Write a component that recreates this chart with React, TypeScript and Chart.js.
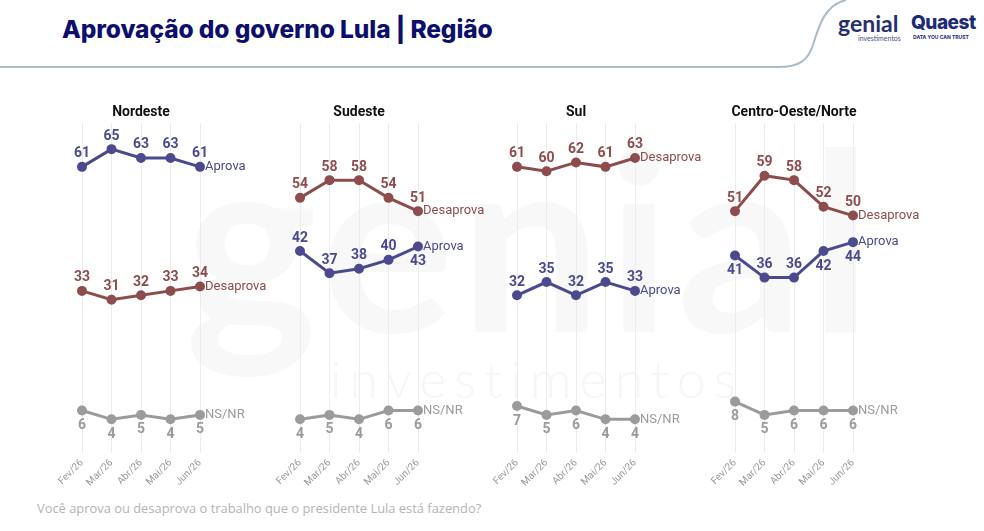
import React, { useEffect, useRef } from "react";
import { Chart, registerables } from "chart.js";

Chart.register(...registerables);

// ---- data ----
const months = ["Fev/26", "Mar/26", "Abr/26", "Mai/26", "Jun/26"];
const regions = ["Nordeste", "Sudeste", "Sul", "Centro-Oeste/Norte"];
const seriesNames = ["Aprova", "Desaprova", "NS/NR"];

const nordesteAprova = [61, 65, 63, 63, 61];
const nordesteDesaprova = [33, 31, 32, 33, 34];
const nordesteNsnr = [6, 4, 5, 4, 5];

const sudesteAprova = [42, 37, 38, 40, 43];
const sudesteDesaprova = [54, 58, 58, 54, 51];
const sudesteNsnr = [4, 5, 4, 6, 6];

const sulAprova = [32, 35, 32, 35, 33];
const sulDesaprova = [61, 60, 62, 61, 63];
const sulNsnr = [7, 5, 6, 4, 4];

const coAprova = [41, 36, 36, 42, 44];
const coDesaprova = [51, 59, 58, 52, 50];
const coNsnr = [8, 5, 6, 6, 6];

// label placement (u = above, d = below)
const U = "u";
const D = "d";
const labelPlacement: Record<string, string[][]> = {
  Nordeste: [[U, U, U, U, U], [U, U, U, U, U], [D, D, D, D, D]],
  Sudeste: [[U, U, U, U, D], [U, U, U, U, U], [D, D, D, D, D]],
  Sul: [[U, U, U, U, U], [U, U, U, U, U], [D, D, D, D, D]],
  "Centro-Oeste/Norte": [[D, U, U, D, D], [U, U, U, U, U], [D, D, D, D, D]],
};

const panelData: number[][][] = [
  [nordesteAprova, nordesteDesaprova, nordesteNsnr],
  [sudesteAprova, sudesteDesaprova, sudesteNsnr],
  [sulAprova, sulDesaprova, sulNsnr],
  [coAprova, coDesaprova, coNsnr],
];

// ---- style ----
const COLORS = ["#4b4a8f", "#8e4d4d", "#9b9b9b"];
const PANEL_FIRST_X = [82, 300, 517, 735];
const CANVAS_TOP = 88;
const PAD_LEFT = 40;
const PAD_RIGHT = 80;
const PLOT_W = 118;
const PAD_TOP = 35;
const PLOT_H = 330;
const XAXIS_H = 42;
const LABEL_FONT = "Roboto, 'Noto Sans', sans-serif";

const labelPlugin = {
  id: "panelLabels",
  afterDatasetsDraw(chart: any) {
    const ctx = chart.ctx;
    ctx.save();
    chart.data.datasets.forEach((ds: any, i: number) => {
      const meta = chart.getDatasetMeta(i);
      const pts = meta.data;
      pts.forEach((pt: any, j: number) => {
        const pos = ds.placement[j];
        ctx.font = `700 14px ${LABEL_FONT}`;
        ctx.fillStyle = ds.borderColor;
        ctx.textAlign = "center";
        ctx.textBaseline = "middle";
        const y = pos === "u" ? pt.y - 13 : pt.y + 15;
        ctx.fillText(String(ds.data[j]), pt.x, y);
      });
      const last = pts[pts.length - 1];
      ctx.font = `400 13px ${LABEL_FONT}`;
      ctx.textAlign = "left";
      ctx.textBaseline = "middle";
      ctx.fillStyle = ds.borderColor;
      ctx.fillText(ds.label, last.x + 5, last.y);
    });
    // panel title
    const t = chart.options.plugins.panelLabels.title;
    const a = chart.chartArea;
    ctx.font = `700 14px ${LABEL_FONT}`;
    ctx.fillStyle = "#111111";
    ctx.textAlign = "center";
    ctx.textBaseline = "middle";
    ctx.fillText(t, (a.left + a.right) / 2, a.top - 11);
    ctx.restore();
  },
};

function Panel({ index }: { index: number }) {
  const ref = useRef<HTMLCanvasElement>(null);
  useEffect(() => {
    const region = regions[index];
    const data = panelData[index];
    const chart = new Chart(ref.current as HTMLCanvasElement, {
      type: "line",
      data: {
        labels: months,
        datasets: data.map((vals, k) => ({
          label: seriesNames[k],
          data: vals,
          borderColor: COLORS[k],
          backgroundColor: COLORS[k],
          borderWidth: 3,
          pointRadius: 3.5,
          pointHoverRadius: 3.5,
          tension: 0,
          clip: false,
          placement: labelPlacement[region][k],
        })) as any,
      },
      options: {
        animation: false,
        responsive: false,
        maintainAspectRatio: false,
        layout: { padding: { top: PAD_TOP, left: PAD_LEFT, right: PAD_RIGHT, bottom: 0 } },
        plugins: {
          legend: { display: false },
          tooltip: { enabled: false },
          title: { display: false },
          panelLabels: { title: region },
        } as any,
        scales: {
          x: {
            type: "category",
            offset: false,
            border: { display: false },
            grid: { color: "#ececec", lineWidth: 1, drawTicks: false },
            ticks: {
              color: "#9a9a9a",
              font: { size: 10, family: LABEL_FONT },
              minRotation: 45,
              maxRotation: 45,
              autoSkip: false,
              padding: 4,
            },
            afterFit: (scale: any) => {
              scale.height = XAXIS_H;
            },
          },
          y: {
            display: false,
            min: -3.6,
            max: 70.9,
          },
        },
      },
      plugins: [labelPlugin],
    });
    return () => chart.destroy();
  }, [index]);

  const width = PAD_LEFT + PLOT_W + PAD_RIGHT;
  const height = PAD_TOP + PLOT_H + XAXIS_H;
  return (
    <canvas
      ref={ref}
      width={width}
      height={height}
      style={{
        position: "absolute",
        left: PANEL_FIRST_X[index] - PAD_LEFT,
        top: CANVAS_TOP,
        width,
        height,
      }}
    />
  );
}

export default function App() {
  return (
    <div
      style={{
        position: "fixed",
        left: 0,
        top: 0,
        width: 984,
        height: 531,
        background: "#ffffff",
        overflow: "hidden",
      }}
    >
      {/* watermark */}
      <div
        style={{
          position: "absolute",
          left: 185,
          top: 110,
          fontFamily: "Lato, sans-serif",
          fontSize: 250,
          fontWeight: 700,
          color: "#f8f8f8",
          lineHeight: 1,
          letterSpacing: 6,
        }}
      >
        genial
      </div>
      <div
        style={{
          position: "absolute",
          left: 330,
          top: 352,
          fontFamily: "Lato, sans-serif",
          fontSize: 52,
          fontWeight: 300,
          color: "#f6f6f6",
          lineHeight: 1,
          letterSpacing: 8,
        }}
      >
        investimentos
      </div>

      {/* header line */}
      <svg
        width={984}
        height={80}
        style={{ position: "absolute", left: 0, top: 0 }}
      >
        <path
          d="M0 67 L778 67 C800 67 808 60 813 45 C819 25 825 5 846 0"
          fill="none"
          stroke="#a9bccb"
          strokeWidth={2}
        />
      </svg>

      <div
        style={{
          position: "absolute",
          left: 62,
          top: 14,
          fontFamily: "Inter, sans-serif",
          fontWeight: 800,
          fontSize: 24.5,
          color: "#0c0f6b",
          whiteSpace: "nowrap",
          letterSpacing: -0.1,
        }}
      >
        Aprovação do governo Lula | Região
      </div>

      {/* logos */}
      <div
        style={{
          position: "absolute",
          left: 838,
          top: 12,
          fontFamily: "Lato, sans-serif",
          fontSize: 23,
          fontWeight: 700,
          color: "#27306e",
          lineHeight: 1,
        }}
      >
        genial
      </div>
      <div
        style={{
          position: "absolute",
          left: 858,
          top: 35,
          fontFamily: "Lato, sans-serif",
          fontSize: 7,
          color: "#4a5288",
          lineHeight: 1,
        }}
      >
        investimentos
      </div>
      <div
        style={{
          position: "absolute",
          left: 911,
          top: 13,
          fontFamily: "Inter, sans-serif",
          fontSize: 19,
          fontWeight: 800,
          color: "#1d2a78",
          lineHeight: 1,
          letterSpacing: -0.5,
        }}
      >
        Quaest
      </div>
      <div
        style={{
          position: "absolute",
          left: 913,
          top: 35,
          fontFamily: "Inter, sans-serif",
          fontSize: 5,
          fontWeight: 700,
          color: "#1d2a78",
          lineHeight: 1,
          whiteSpace: "nowrap",
        }}
      >
        DATA YOU CAN TRUST
      </div>

      {regions.map((r, i) => (
        <Panel key={r} index={i} />
      ))}

      <div
        style={{
          position: "absolute",
          left: 37,
          top: 499,
          fontFamily: "'Open Sans', sans-serif",
          fontSize: 12.9,
          color: "#b4b4b4",
          whiteSpace: "nowrap",
        }}
      >
        Você aprova ou desaprova o trabalho que o presidente Lula está fazendo?
      </div>
    </div>
  );
}
